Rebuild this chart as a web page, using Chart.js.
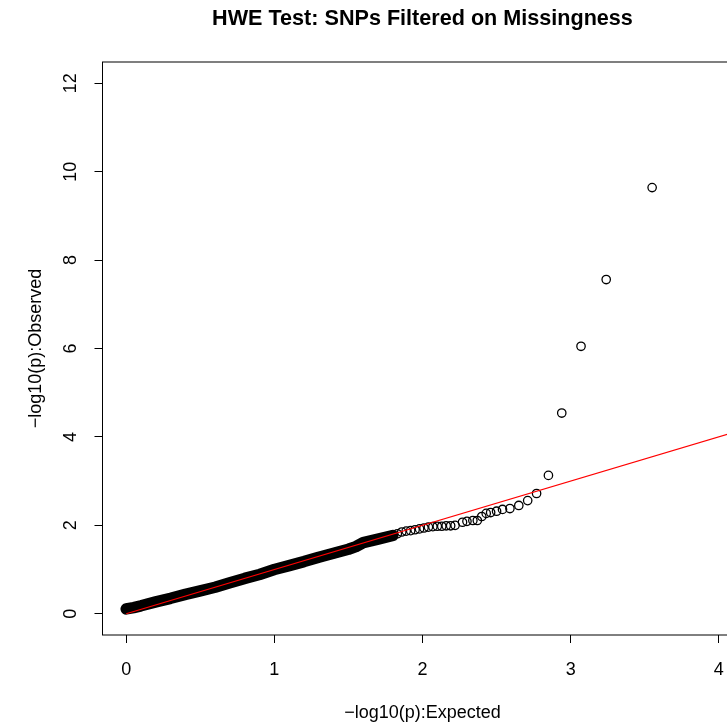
<!DOCTYPE html>
<html lang="en">
<head>
<meta charset="UTF-8">
<title>HWE Test: SNPs Filtered on Missingness</title>
<script src="https://cdn.jsdelivr.net/npm/chart.js@4.4.0/dist/chart.umd.min.js"></script>
<style>
  html, body { margin: 0; padding: 0; background: #fff; overflow: hidden; }
  canvas { display: block; }
</style>
</head>
<body>
<canvas id="chart" width="748" height="725" style="width:748px;height:725px"></canvas>
<script>
// tick labels
const xTicks = [0, 1, 2, 3, 4];
const yTicks = [0, 2, 4, 6, 8, 10, 12];

// dense part of the QQ cloud (centre of the solid black band)
const bandExpected = [0.00, 0.05, 0.10, 0.20, 0.30, 0.40, 0.50, 0.60, 0.70, 0.80, 0.90, 1.00,
                      1.10, 1.20, 1.30, 1.40, 1.50, 1.55, 1.60, 1.70, 1.80];
const bandObserved = [0.11, 0.14, 0.18, 0.27, 0.35, 0.44, 0.52, 0.60, 0.70, 0.80, 0.89, 1.00,
                      1.09, 1.18, 1.28, 1.37, 1.46, 1.52, 1.61, 1.69, 1.77];

// sparse upper tail, individual circles
const tailExpected = [1.76, 1.80, 1.83, 1.86, 1.89, 1.92, 1.95, 1.98, 2.01, 2.04, 2.07, 2.10,
                      2.13, 2.16, 2.19, 2.22, 2.27, 2.30, 2.34, 2.37, 2.40, 2.43, 2.46, 2.50,
                      2.54, 2.59, 2.65, 2.71, 2.77, 2.85, 2.94, 3.07, 3.24, 3.55];
const tailObserved = [1.74, 1.78, 1.81, 1.85, 1.87, 1.88, 1.90, 1.92, 1.94, 1.96, 1.97, 1.98,
                      1.98, 1.99, 1.99, 2.00, 2.07, 2.09, 2.11, 2.11, 2.20, 2.27, 2.29, 2.32,
                      2.36, 2.38, 2.45, 2.56, 2.72, 3.13, 4.54, 6.05, 7.56, 9.64];

// y = x reference line
const refX = [0, 4.2];
const refY = [0, 4.2];

const FONT = '"Liberation Sans", Arial, Helvetica, sans-serif';

function pts(xs, ys) {
  return xs.map((x, i) => ({ x: x, y: ys[i] }));
}

const textPlugin = {
  id: 'rtext',
  afterDraw(chart) {
    const ctx = chart.ctx;
    const a = chart.chartArea;
    const xs = chart.scales.x;
    const ys = chart.scales.y;
    ctx.save();
    // box round the plot region
    ctx.strokeStyle = '#000';
    ctx.lineWidth = 1;
    ctx.strokeRect(a.left, a.top, a.right - a.left, a.bottom - a.top);

    ctx.fillStyle = '#000';
    ctx.font = '18px ' + FONT;
    ctx.textAlign = 'center';
    ctx.textBaseline = 'alphabetic';
    xTicks.forEach(v => {
      ctx.fillText(String(v), xs.getPixelForValue(v), 675);
    });
    ctx.fillText('\u2212log10(p):Expected', 422.5, 718);

    yTicks.forEach(v => {
      ctx.save();
      ctx.translate(76, ys.getPixelForValue(v));
      ctx.rotate(-Math.PI / 2);
      ctx.fillText(String(v), 0, 0);
      ctx.restore();
    });
    ctx.save();
    ctx.translate(41, (a.top + a.bottom) / 2);
    ctx.rotate(-Math.PI / 2);
    ctx.fillText('\u2212log10(p):Observed', 0, 0);
    ctx.restore();

    ctx.font = 'bold 21.6px ' + FONT;
    ctx.fillText('HWE Test: SNPs Filtered on Missingness', 422.5, 25);
    ctx.restore();
  }
};

new Chart(document.getElementById('chart'), {
  type: 'scatter',
  data: {
    datasets: [
      {
        label: 'y = x',
        type: 'line',
        data: pts(refX, refY),
        borderColor: '#ff0000',
        borderWidth: 1.2,
        pointRadius: 0,
        order: 0
      },
      {
        label: 'tail',
        data: pts(tailExpected, tailObserved),
        pointStyle: 'circle',
        pointRadius: 4.2,
        pointBorderWidth: 1.3,
        pointBorderColor: '#000',
        pointBackgroundColor: 'rgba(0,0,0,0)',
        order: 1
      },
      {
        label: 'band',
        type: 'line',
        data: pts(bandExpected, bandObserved),
        borderColor: '#000',
        borderWidth: 11.5,
        borderCapStyle: 'round',
        borderJoinStyle: 'round',
        pointRadius: 0,
        order: 2
      }
    ]
  },
  options: {
    responsive: false,
    animation: false,
    devicePixelRatio: 1,
    layout: { padding: { top: 62, right: 2.5, left: 0, bottom: 0 } },
    plugins: { legend: { display: false }, tooltip: { enabled: false }, title: { display: false } },
    scales: {
      x: {
        type: 'linear',
        min: -0.16,
        max: 4.16,
        afterBuildTicks: s => { s.ticks = xTicks.map(v => ({ value: v })); },
        afterFit: s => { s.height = 90; },
        ticks: { display: false },
        grid: { drawOnChartArea: false, drawTicks: true, tickLength: 8, color: '#000', lineWidth: 1 },
        border: { display: false }
      },
      y: {
        type: 'linear',
        min: -0.48,
        max: 12.48,
        afterBuildTicks: s => { s.ticks = yTicks.map(v => ({ value: v })); },
        afterFit: s => { s.width = 102.5; },
        ticks: { display: false },
        grid: { drawOnChartArea: false, drawTicks: true, tickLength: 8, color: '#000', lineWidth: 1 },
        border: { display: false }
      }
    }
  },
  plugins: [textPlugin]
});
</script>
</body>
</html>
